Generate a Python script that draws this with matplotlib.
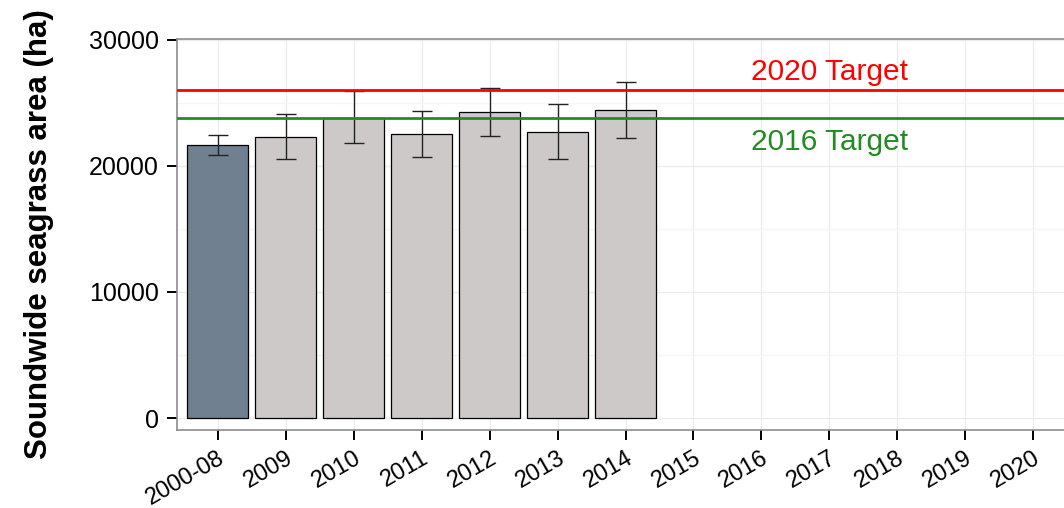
import numpy as np
import matplotlib
matplotlib.use("Agg")
from matplotlib import pyplot as plt
from matplotlib.ticker import MultipleLocator
from matplotlib.transforms import ScaledTranslation

plt.rcParams['font.family'] = ['Liberation Sans', 'DejaVu Sans']

# categorias del eje x (las de 2015 a 2020 quedan sin barra)
years = ['2000-08', '2009', '2010', '2011', '2012', '2013', '2014',
         '2015', '2016', '2017', '2018', '2019', '2020']
bar_years = ['2000-08', '2009', '2010', '2011', '2012', '2013', '2014']
area = [21600, 22300, 23800, 22500, 24250, 22650, 24400]
err_low = [20850, 20550, 21800, 20700, 22380, 20500, 22200]
err_high = [22420, 24120, 25950, 24300, 26180, 24870, 26640]
target_2020 = 25980
target_2016 = 23800

fig = plt.figure(figsize=(10.64, 5.08), dpi=100)
ax = fig.add_axes([177 / 1064, 78 / 508, (1074 - 177) / 1064, (469 - 78) / 508])

x = np.arange(len(years))
xb = np.arange(len(bar_years))
colors = ['#708090'] + ['#cdc9c9'] * (len(bar_years) - 1)

ax.set_axisbelow(True)
ax.bar(xb, area, width=0.9, color=colors, edgecolor='black', linewidth=0.9, zorder=2)
yerr = [np.array(area) - np.array(err_low), np.array(err_high) - np.array(area)]
ax.errorbar(xb, area, yerr=yerr, fmt='none', ecolor='#222222', elinewidth=1.0,
            capsize=7, capthick=1.0, zorder=3)

ax.axhline(target_2020, color='#ff0000', linewidth=2, zorder=4)
ax.axhline(target_2016, color='#228b22', linewidth=2, zorder=4)
ax.text(9, target_2020 + 1450, '2020 Target', color='#ff0000', fontsize=21.5,
        ha='center', va='center')
ax.text(9, target_2016 - 1950, '2016 Target', color='#228b22', fontsize=21.5,
        ha='center', va='center')

ax.set_xlim(-0.6, len(years) - 0.4)
ax.set_ylim(-950, 30040)
ax.set_xticks(x)
ax.set_xticklabels(years, rotation=30, ha='right', va='top', rotation_mode='anchor',
                   fontsize=17)
# corro un poco las etiquetas a la derecha como en el original
shift = ScaledTranslation(7 / 100, 0, fig.dpi_scale_trans)
for lbl in ax.get_xticklabels():
    lbl.set_transform(lbl.get_transform() + shift)
ax.yaxis.set_major_locator(MultipleLocator(10000))
ax.yaxis.set_minor_locator(MultipleLocator(5000))
ax.grid(which='major', color='#ebebeb', linewidth=0.9)
ax.grid(which='minor', axis='y', color='#f5f5f5', linewidth=0.9)
ax.tick_params(which='major', length=7, width=1.4, color='black', labelcolor='black')
ax.tick_params(axis='y', pad=6, labelsize=18)
ax.tick_params(axis='x', pad=5)
ax.tick_params(which='minor', length=0)
for s in ax.spines.values():
    s.set_color('#8c8c8c')
    s.set_linewidth(1.2)

ax.set_ylabel('Soundwide seagrass area (ha)', fontsize=22.5, fontweight='bold')
ax.yaxis.set_label_coords(-0.137, 0.5)

fig.savefig('out.png', dpi=100)
